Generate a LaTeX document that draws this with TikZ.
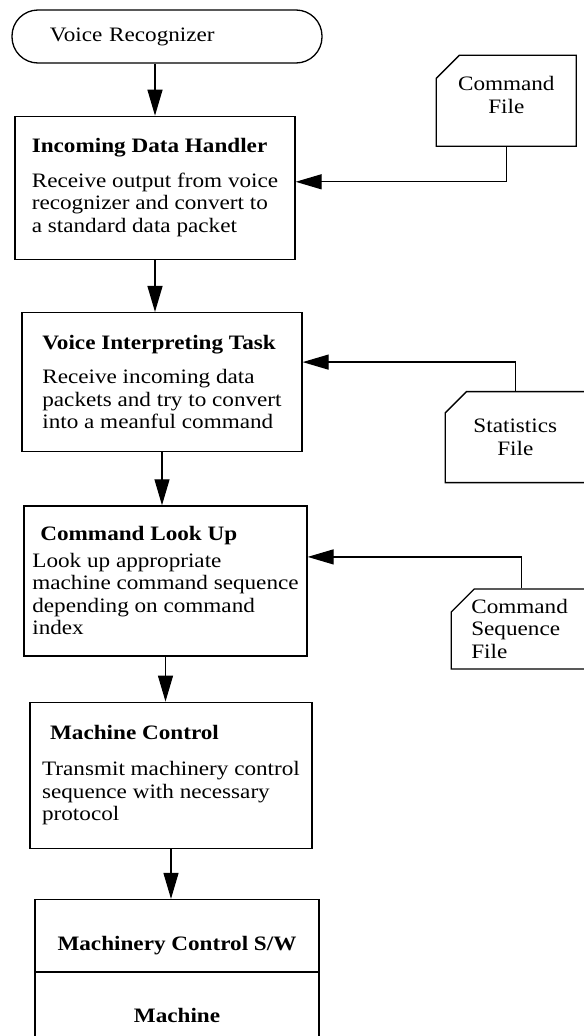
\documentclass[tikz,border=0pt]{standalone}
\usepackage{fontspec}
\setmainfont{Liberation Serif}[FakeStretch=1.13]
\usetikzlibrary{positioning,shapes.misc,arrows.meta}

\tikzset{
  every node/.style={font=\fontsize{20.5bp}{22.5bp}\selectfont},
  task/.style={draw, line width=1.3bp, align=left, minimum width=#1},
  datafile/.style={draw, line width=1.3bp, chamfered rectangle,
    chamfered rectangle corners=north west, chamfered rectangle xsep=20bp,
    inner xsep=0pt, inner ysep=0pt, minimum width=140bp},
  lowtext/.style={text height=29bp, text depth=0pt},
}

\begin{document}
\begin{tikzpicture}[x=1bp, y=1bp, >={Triangle[length=26bp,width=15bp]}, line width=1.3bp]
\useasboundingbox (0,0) rectangle (584,-1036);

\node[draw, rounded corners=26bp, minimum height=53bp, text width=234bp,
      inner xsep=38bp, align=left] (vr) at (167,-36.5) {Voice Recognizer};

\node[task=280bp, minimum height=143bp, below=52bp of vr, xshift=-12bp] (idh)
  {\textbf{Incoming Data Handler}\\[12bp]
   Receive output from voice\\ recognizer and convert to\\ a standard data packet};
\node[task=280bp, minimum height=139bp, below=52bp of idh, xshift=7bp] (vit)
  {\textbf{Voice Interpreting Task}\\[12bp]
   Receive incoming data\\ packets and try to convert\\ into a meanful command};
\node[task=283bp, minimum height=150bp, below=53bp of vit, xshift=3.5bp] (clu)
  {\hspace*{8bp}\textbf{Command Look Up}\\[4bp]
   Look up appropriate\\ machine command sequence\\ depending on command\\ index};
\node[task=282bp, minimum height=146bp, below=45bp of clu, xshift=5.5bp] (mc)
  {\hspace*{8bp}\textbf{Machine Control}\\[14bp]
   Transmit machinery control\\ sequence with necessary\\ protocol};
\node[task=284bp, minimum height=72bp, lowtext, align=center, below=50bp of mc, xshift=6bp] (sw)
  {\textbf{Machinery Control S/W}};
\node[task=284bp, minimum height=70bp, lowtext, align=center, below=0bp of sw] (mach)
  {\textbf{Machine}};

% files on the right
\node[datafile, minimum height=91bp, text depth=12bp, align=center, right=140bp of idh, yshift=87bp] (cf)
  {Command\\File};
\node[datafile, minimum height=91bp, align=center, right=142bp of vit, yshift=-55bp] (sf)
  {Statistics\\File};
\node[datafile, minimum height=80bp, text width=100bp, align=left,
      right=143bp of clu, yshift=-48bp] (csf)
  {Command\\Sequence\\File};

\draw[->] (idh.north |- vr.south) -- (idh.north);
\draw[->] (idh.south) -- (idh.south |- vit.north);
\draw[->] (vit.south) -- (vit.south |- clu.north);
\draw[->] (clu.south) -- (clu.south |- mc.north);
\draw[->] (mc.south) -- (mc.south |- sw.north);

\draw[->] (cf.south) |- ([yshift=6bp]idh.east);
\draw[->] (sf.north) |- ([yshift=20bp]vit.east);
\draw[->] (csf.north) |- ([yshift=24bp]clu.east);
\end{tikzpicture}
\end{document}
